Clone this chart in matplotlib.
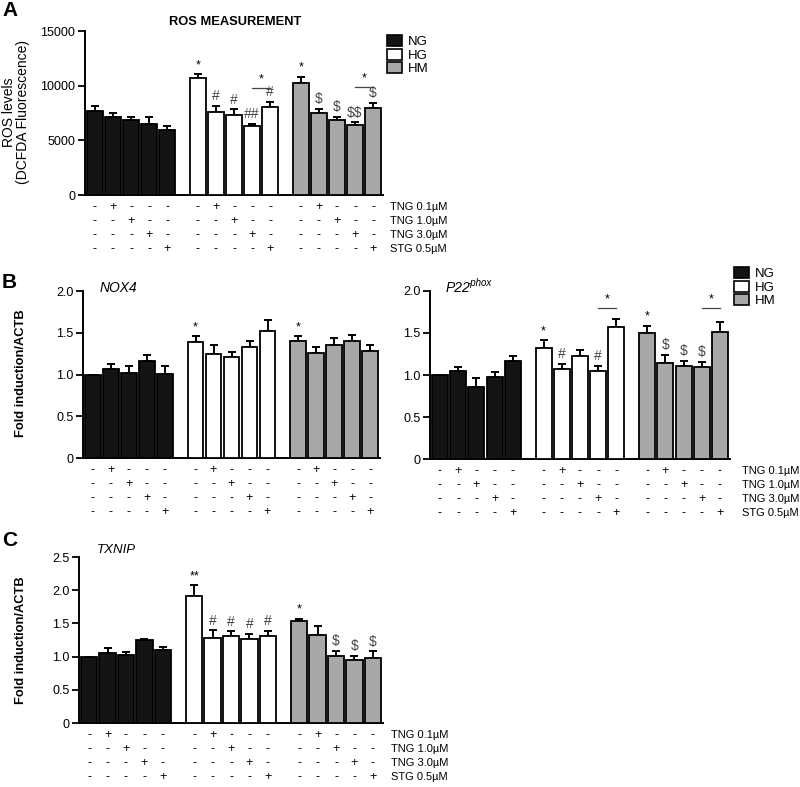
import numpy as np
import matplotlib.pyplot as plt
from matplotlib.patches import Patch

plt.rcParams['font.family'] = ['Liberation Sans', 'DejaVu Sans']

groups = ['NG', 'HG', 'HM']
colors = ['#141414', 'white', '#a8a8a8']
treatments = ['TNG 0.1µM', 'TNG 1.0µM', 'TNG 3.0µM', 'STG 0.5µM']

# ROS (DCFDA fluorescence)
ros_mean = [[7680, 7100, 6860, 6460, 5950],
            [10670, 7620, 7320, 6340, 8080],
            [10210, 7470, 6860, 6400, 7930]]
ros_sem = [[460, 370, 240, 700, 390],
           [370, 550, 520, 150, 460],
           [610, 400, 300, 250, 520]]
ros_marks = [['', '', '', '', ''],
             ['*', '#', '#', '##', '#'],
             ['*', '$', '$', '$$', '$']]
ros_brackets = [(1, 3, 4, 9760), (2, 3, 4, 9900)]

nox4_mean = [[1.0, 1.064, 1.02, 1.163, 1.004],
             [1.386, 1.243, 1.207, 1.327, 1.526],
             [1.398, 1.255, 1.355, 1.398, 1.283]]
nox4_sem = [[0, 0.063, 0.087, 0.068, 0.092],
            [0.072, 0.112, 0.068, 0.071, 0.127],
            [0.06, 0.08, 0.087, 0.072, 0.068]]
nox4_marks = [['', '', '', '', ''],
              ['*', '', '', '', ''],
              ['*', '', '', '', '']]

p22_mean = [[1.0, 1.048, 0.861, 0.98, 1.167],
            [1.321, 1.075, 1.226, 1.044, 1.571],
            [1.5, 1.147, 1.107, 1.091, 1.512]]
p22_sem = [[0, 0.047, 0.099, 0.06, 0.063],
           [0.092, 0.056, 0.072, 0.067, 0.092],
           [0.087, 0.095, 0.064, 0.068, 0.123]]
p22_marks = [['', '', '', '', ''],
             ['*', '#', '', '#', ''],
             ['*', '$', '$', '$', '']]
p22_brackets = [(1, 3, 4, 1.795), (2, 3, 4, 1.795)]

txnip_mean = [[1.0, 1.06, 1.02, 1.245, 1.094],
              [1.908, 1.285, 1.305, 1.27, 1.305],
              [1.531, 1.33, 1.009, 0.944, 0.984]]
txnip_sem = [[0, 0.07, 0.05, 0.015, 0.046],
             [0.165, 0.111, 0.075, 0.075, 0.081],
             [0.04, 0.131, 0.075, 0.065, 0.096]]
txnip_marks = [['', '', '', '', ''],
               ['**', '#', '#', '#', '#'],
               ['*', '', '$', '$', '$']]

W, H = 800, 787
GSTEP = 5.7


def box(l, r, t, b):
    return [l / W, 1 - b / H, (r - l) / W, (b - t) / H]


def draw_panel(ax, means, sems, marks, brackets, ymax, yticks, ylabels,
               row_labels=True, lab_x=1.025):
    for g in range(3):
        x = g * GSTEP + np.arange(5)
        ax.bar(x, means[g], width=0.88, color=colors[g], edgecolor='black',
               linewidth=1.3, zorder=3)
        ax.errorbar(x, means[g], yerr=[np.zeros(5), sems[g]], fmt='none',
                    ecolor='black', elinewidth=1.4, capsize=3, capthick=1.4,
                    zorder=2)
        for i in range(5):
            m = marks[g][i]
            if m:
                star = '*' in m
                ax.annotate(m, (x[i], means[g][i] + sems[g][i]),
                            xytext=(0, 2), textcoords='offset points',
                            ha='center', va='bottom',
                            fontsize=9 if star else 10,
                            color='black' if star else '#444444',
                            parse_math=False)
    for g, i, j, yb in brackets:
        x0 = g * GSTEP + i
        x1 = g * GSTEP + j
        ax.plot([x0, x1], [yb, yb], color='#444444', lw=0.9)
        ax.annotate('*', ((x0 + x1) / 2, yb), xytext=(0, 2),
                    textcoords='offset points', ha='center', va='bottom',
                    fontsize=9)
    # treatment table under the bars
    tr = ax.get_xaxis_transform()
    for r in range(4):
        dy = -(12 + 14 * r) * 0.72
        for g in range(3):
            for i in range(5):
                s = '+' if i == r + 1 else '-'
                ax.annotate(s, (g * GSTEP + i, 0), xycoords=tr,
                            xytext=(0, dy), textcoords='offset points',
                            ha='center', va='center', fontsize=9)
        if row_labels:
            ax.annotate(treatments[r], (lab_x, 0), xycoords='axes fraction',
                        xytext=(0, dy), textcoords='offset points',
                        ha='left', va='center', fontsize=8)
    ax.set_xlim(-0.55, 2 * GSTEP + 4.55)
    ax.set_ylim(0, ymax)
    ax.set_yticks(yticks)
    ax.set_yticklabels(ylabels, fontsize=9)
    ax.set_xticks([])
    for s in ['top', 'right']:
        ax.spines[s].set_visible(False)
    for s in ['left', 'bottom']:
        ax.spines[s].set_linewidth(1.4)
    ax.tick_params(axis='y', length=5, width=1.3, pad=2)


fig = plt.figure(figsize=(8, 7.87), dpi=100)

axA = fig.add_axes(box(85, 383, 31, 195))
draw_panel(axA, ros_mean, ros_sem, ros_marks, ros_brackets, 15000,
           [0, 5000, 10000, 15000], ['0', '5000', '10000', '15000'])

axB1 = fig.add_axes(box(83, 380, 291, 458))
draw_panel(axB1, nox4_mean, nox4_sem, nox4_marks, [], 2.0,
           [0, 0.5, 1.0, 1.5, 2.0], ['0', '0.5', '1.0', '1.5', '2.0'],
           row_labels=False)

axB2 = fig.add_axes(box(430, 730, 291, 459))
draw_panel(axB2, p22_mean, p22_sem, p22_marks, p22_brackets, 2.0,
           [0, 0.5, 1.0, 1.5, 2.0], ['0', '0.5', '1.0', '1.5', '2.0'],
           lab_x=1.04)

axC = fig.add_axes(box(79, 383, 557, 723))
draw_panel(axC, txnip_mean, txnip_sem, txnip_marks, [], 2.5,
           [0, 0.5, 1.0, 1.5, 2.0, 2.5],
           ['0', '0.5', '1.0', '1.5', '2.0', '2.5'])

# labels and titles
fig.text(2 / W, 1 - 10 / H, 'A', fontsize=15, fontweight='bold', va='center')
fig.text(2 / W, 1 - 282 / H, 'B', fontsize=15, fontweight='bold', va='center')
fig.text(2 / W, 1 - 540 / H, 'C', fontsize=15, fontweight='bold', va='center')
fig.text(235 / W, 1 - 22 / H, 'ROS MEASUREMENT', fontsize=9.3, fontweight='bold',
         ha='center', va='center')
fig.text(16 / W, 1 - 112 / H, 'ROS levels\n(DCFDA Fluorescence)', fontsize=10,
         rotation=90, ha='center', va='center', linespacing=1.05)
fig.text(21 / W, 1 - 373 / H, 'Fold induction/ACTB', fontsize=9.3,
         fontweight='bold', rotation=90, ha='center', va='center')
fig.text(21 / W, 1 - 640 / H, 'Fold induction/ACTB', fontsize=9.3,
         fontweight='bold', rotation=90, ha='center', va='center')
fig.text(100 / W, 1 - 288 / H, 'NOX4', fontsize=10, style='italic',
         va='center')
fig.text(446 / W, 1 - 288 / H, 'P22', fontsize=10, style='italic',
         va='center')
fig.text(468 / W, 1 - 283 / H, '-phox', fontsize=7, style='italic',
         va='center')
fig.text(97 / W, 1 - 550 / H, 'TXNIP', fontsize=9.5, style='italic',
         va='center')

handles = [Patch(facecolor=c, edgecolor='black', linewidth=1.2) for c in colors]
for bx, by in [(387, 35), (734, 267)]:
    fig.legend(handles, groups, loc='upper left',
               bbox_to_anchor=(bx / W, 1 - by / H), frameon=False, fontsize=9.5,
               handlelength=1.1, handleheight=0.9, labelspacing=0.05,
               handletextpad=0.5, borderpad=0, borderaxespad=0)

fig.savefig('out.png', dpi=100)
